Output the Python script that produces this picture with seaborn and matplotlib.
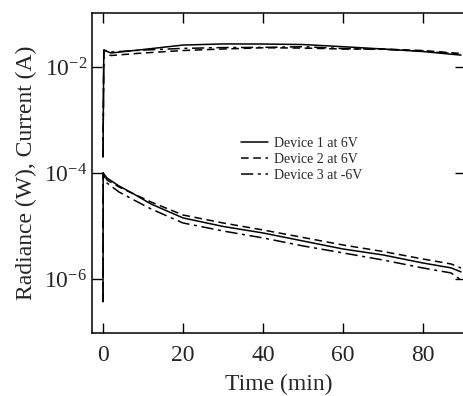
import matplotlib
matplotlib.use('Agg')
import matplotlib.pyplot as plt
import seaborn as sns
import pandas as pd

sns.set_style('ticks')
plt.rcParams['font.family'] = ['Liberation Serif', 'DejaVu Serif']
plt.rcParams['mathtext.fontset'] = 'custom'
plt.rcParams['mathtext.rm'] = 'Liberation Serif'
plt.rcParams['mathtext.it'] = 'Liberation Serif:italic'

# current curves (upper group)
t_cur = [0, 0.2, 2, 10, 20, 30, 40, 50, 60, 70, 80, 89.5]
cur_dev1 = [2e-4, 0.0209, 0.0184, 0.0214, 0.0260, 0.0273, 0.0272, 0.0266, 0.0242, 0.0219, 0.0196, 0.0168]
cur_dev2 = [2e-4, 0.0184, 0.0165, 0.0184, 0.0205, 0.0219, 0.0231, 0.0228, 0.0219, 0.0219, 0.0205, 0.0180]
cur_dev3 = [2e-4, 0.0209, 0.0192, 0.0209, 0.0225, 0.0233, 0.0235, 0.0242, 0.0223, 0.0216, 0.0200, 0.0174]

# radiance curves (lower group)
t_rad = [0, 0.05, 1, 4, 7.7, 12, 20, 30, 40, 50, 60, 70, 80, 87, 89.5]
rad_dev1 = [3.7e-7, 1.0e-4, 8.05e-5, 5.69e-5, 4.02e-5, 2.60e-5, 1.42e-5, 9.8e-6, 7.38e-6,
            5.21e-6, 3.68e-6, 2.84e-6, 2.00e-6, 1.62e-6, 1.36e-6]
rad_dev2 = [3.7e-7, 1.0e-4, 7.38e-5, 5.44e-5, 4.02e-5, 2.84e-5, 1.61e-5, 1.14e-5, 8.41e-6,
            6.07e-6, 4.38e-6, 3.30e-6, 2.38e-6, 1.92e-6, 1.61e-6]
rad_dev3 = [3.7e-7, 1.0e-4, 6.47e-5, 4.38e-5, 3.10e-5, 2.10e-5, 1.14e-5, 8.05e-6, 5.95e-6,
            4.20e-6, 3.10e-6, 2.28e-6, 1.61e-6, 1.30e-6, 9.57e-7]

labels = ['Device 1 at 6V', 'Device 2 at 6V', 'Device 3 at -6V']
styles = ['-', (0, (5, 3)), (0, (8, 3, 2, 3))]

fig = plt.figure(figsize=(4.64, 3.96), dpi=100)
ax = fig.add_axes([92 / 464, 63 / 396, 373 / 464, 320 / 396])

for lab, ls, cur, rad in zip(labels, styles, [cur_dev1, cur_dev2, cur_dev3],
                             [rad_dev1, rad_dev2, rad_dev3]):
    sns.lineplot(x=t_cur, y=cur, ax=ax, color='black', linewidth=1.1,
                 linestyle=ls, estimator=None, sort=False, label=lab)
    sns.lineplot(x=t_rad, y=rad, ax=ax, color='black', linewidth=1.1,
                 linestyle=ls, estimator=None, sort=False)

ax.set_yscale('log')
ax.set_xlim(-2.75, 90.5)
ax.set_ylim(10 ** -7.02, 10 ** -0.98)
ax.set_xticks([0, 20, 40, 60, 80])
ax.set_yticks([1e-2, 1e-4, 1e-6])
ax.set_yticklabels([r'$10^{-2}$', r'$10^{-4}$', r'$10^{-6}$'])
ax.minorticks_off()
ax.tick_params(direction='in', length=7, width=1, top=True, right=True,
               labelsize=17, color='black')
ax.tick_params(axis='x', pad=8.5)
ax.tick_params(axis='y', pad=3.5)
for s in ax.spines.values():
    s.set_linewidth(1.1)
    s.set_color('black')

ax.set_xlabel('Time (min)', fontsize=17, labelpad=6)
ax.set_ylabel('Radiance (W), Current (A)', fontsize=17, labelpad=5)

ax.legend(loc='upper left', bbox_to_anchor=(0.40, 0.612), frameon=False,
          fontsize=10, handlelength=1.9, handletextpad=0.45, labelspacing=0.2,
          borderaxespad=0, borderpad=0)

plt.savefig('out.png', dpi=100)
plt.close()
